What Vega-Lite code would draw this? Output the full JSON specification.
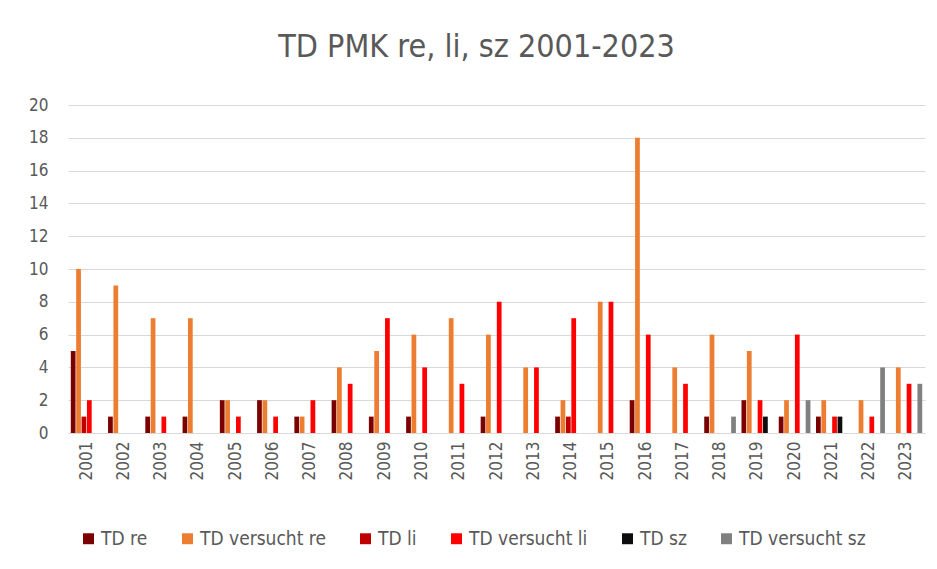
{
  "$schema": "https://vega.github.io/schema/vega-lite/v6.json",
  "autosize": {"type": "none"},
  "width": 857,
  "height": 328,
  "padding": {"left": 68, "top": 105, "right": 12, "bottom": 136},
  "background": "white",
  "title": {
    "text": "TD PMK re, li, sz 2001-2023",
    "fontSize": 32,
    "font": "Liberation Sans Narrow, DejaVu Sans Condensed, sans-serif",
    "fontWeight": "normal",
    "color": "#595959",
    "anchor": "middle",
    "dx": -20,
    "offset": 32
  },
  "config": {
    "view": {"stroke": null},
    "font": "Liberation Sans Narrow, DejaVu Sans Condensed, sans-serif"
  },
  "data": {
    "values": [
      {"year": "2001", "series": "TD re", "value": 5},
      {"year": "2001", "series": "TD versucht re", "value": 10},
      {"year": "2001", "series": "TD li", "value": 1},
      {"year": "2001", "series": "TD versucht li", "value": 2},
      {"year": "2002", "series": "TD re", "value": 1},
      {"year": "2002", "series": "TD versucht re", "value": 9},
      {"year": "2003", "series": "TD re", "value": 1},
      {"year": "2003", "series": "TD versucht re", "value": 7},
      {"year": "2003", "series": "TD versucht li", "value": 1},
      {"year": "2004", "series": "TD re", "value": 1},
      {"year": "2004", "series": "TD versucht re", "value": 7},
      {"year": "2005", "series": "TD re", "value": 2},
      {"year": "2005", "series": "TD versucht re", "value": 2},
      {"year": "2005", "series": "TD versucht li", "value": 1},
      {"year": "2006", "series": "TD re", "value": 2},
      {"year": "2006", "series": "TD versucht re", "value": 2},
      {"year": "2006", "series": "TD versucht li", "value": 1},
      {"year": "2007", "series": "TD re", "value": 1},
      {"year": "2007", "series": "TD versucht re", "value": 1},
      {"year": "2007", "series": "TD versucht li", "value": 2},
      {"year": "2008", "series": "TD re", "value": 2},
      {"year": "2008", "series": "TD versucht re", "value": 4},
      {"year": "2008", "series": "TD versucht li", "value": 3},
      {"year": "2009", "series": "TD re", "value": 1},
      {"year": "2009", "series": "TD versucht re", "value": 5},
      {"year": "2009", "series": "TD versucht li", "value": 7},
      {"year": "2010", "series": "TD re", "value": 1},
      {"year": "2010", "series": "TD versucht re", "value": 6},
      {"year": "2010", "series": "TD versucht li", "value": 4},
      {"year": "2011", "series": "TD versucht re", "value": 7},
      {"year": "2011", "series": "TD versucht li", "value": 3},
      {"year": "2012", "series": "TD re", "value": 1},
      {"year": "2012", "series": "TD versucht re", "value": 6},
      {"year": "2012", "series": "TD versucht li", "value": 8},
      {"year": "2013", "series": "TD versucht re", "value": 4},
      {"year": "2013", "series": "TD versucht li", "value": 4},
      {"year": "2014", "series": "TD re", "value": 1},
      {"year": "2014", "series": "TD versucht re", "value": 2},
      {"year": "2014", "series": "TD li", "value": 1},
      {"year": "2014", "series": "TD versucht li", "value": 7},
      {"year": "2015", "series": "TD versucht re", "value": 8},
      {"year": "2015", "series": "TD versucht li", "value": 8},
      {"year": "2016", "series": "TD re", "value": 2},
      {"year": "2016", "series": "TD versucht re", "value": 18},
      {"year": "2016", "series": "TD versucht li", "value": 6},
      {"year": "2017", "series": "TD versucht re", "value": 4},
      {"year": "2017", "series": "TD versucht li", "value": 3},
      {"year": "2018", "series": "TD re", "value": 1},
      {"year": "2018", "series": "TD versucht re", "value": 6},
      {"year": "2018", "series": "TD versucht sz", "value": 1},
      {"year": "2019", "series": "TD re", "value": 2},
      {"year": "2019", "series": "TD versucht re", "value": 5},
      {"year": "2019", "series": "TD versucht li", "value": 2},
      {"year": "2019", "series": "TD sz", "value": 1},
      {"year": "2020", "series": "TD re", "value": 1},
      {"year": "2020", "series": "TD versucht re", "value": 2},
      {"year": "2020", "series": "TD versucht li", "value": 6},
      {"year": "2020", "series": "TD versucht sz", "value": 2},
      {"year": "2021", "series": "TD re", "value": 1},
      {"year": "2021", "series": "TD versucht re", "value": 2},
      {"year": "2021", "series": "TD versucht li", "value": 1},
      {"year": "2021", "series": "TD sz", "value": 1},
      {"year": "2022", "series": "TD versucht re", "value": 2},
      {"year": "2022", "series": "TD versucht li", "value": 1},
      {"year": "2022", "series": "TD versucht sz", "value": 4},
      {"year": "2023", "series": "TD versucht re", "value": 4},
      {"year": "2023", "series": "TD versucht li", "value": 3},
      {"year": "2023", "series": "TD versucht sz", "value": 3}
    ]
  },
  "mark": {"type": "bar"},
  "encoding": {
    "x": {
      "field": "year",
      "type": "nominal",
      "scale": {
        "domain": ["2001","2002","2003","2004","2005","2006","2007","2008","2009","2010","2011","2012","2013","2014","2015","2016","2017","2018","2019","2020","2021","2022","2023"],
        "paddingInner": 0.15,
        "paddingOuter": 0.075
      },
      "axis": {
        "title": null,
        "labelAngle": -90,
        "labelAlign": "right",
        "labelBaseline": "middle",
        "labelFontSize": 17,
        "labelColor": "#595959",
        "labelPadding": 8,
        "ticks": false,
        "domainColor": "#d9d9d9",
        "domainWidth": 1
      }
    },
    "xOffset": {
      "field": "series",
      "type": "nominal",
      "scale": {
        "domain": ["TD re", "TD versucht re", "TD li", "TD versucht li", "TD sz", "TD versucht sz"],
        "paddingInner": 0.12
      }
    },
    "y": {
      "field": "value",
      "type": "quantitative",
      "scale": {"domain": [0, 20], "nice": false},
      "axis": {
        "title": null,
        "values": [0, 2, 4, 6, 8, 10, 12, 14, 16, 18, 20],
        "labelFontSize": 17,
        "labelColor": "#595959",
        "labelPadding": 20,
        "ticks": false,
        "domain": false,
        "gridColor": "#d9d9d9",
        "gridWidth": 1
      }
    },
    "color": {
      "field": "series",
      "type": "nominal",
      "scale": {
        "domain": ["TD re", "TD versucht re", "TD li", "TD versucht li", "TD sz", "TD versucht sz"],
        "range": ["#7b0000", "#ed7d31", "#c00000", "#ff0000", "#0d0d0d", "#808080"]
      },
      "legend": {
        "title": null,
        "orient": "none",
        "legendX": 11,
        "legendY": 424,
        "direction": "horizontal",
        "symbolType": "square",
        "symbolSize": 120,
        "symbolStrokeWidth": 0,
        "labelFontSize": 19,
        "labelColor": "#595959",
        "labelOffset": 3,
        "columnPadding": 30
      }
    }
  }
}
